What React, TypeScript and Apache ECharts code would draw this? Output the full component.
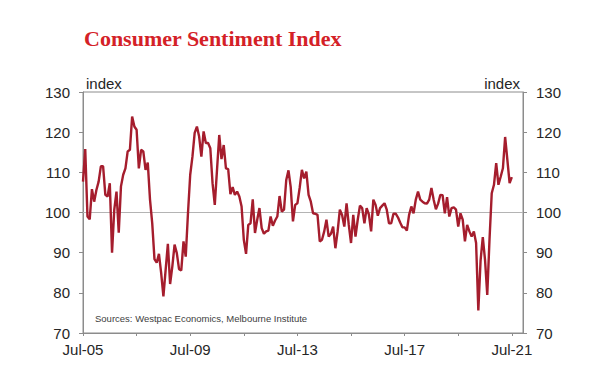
import React, { useEffect, useRef } from "react";
import * as echarts from "echarts";

// Westpac-Melbourne Institute Consumer Sentiment Index, monthly
const sentimentJul05toJun09 = [
  107.7, 115.8, 99, 98.3, 105.8, 102.7, 105.6, 107.7, 111.5, 111.5, 104.4, 104,
  107.3, 90, 100.7, 105.2, 95, 106.5, 109.4, 111, 115.2, 115.6, 123.9, 121.4,
  120.6, 111, 115.6, 115.2, 110.6, 112.4, 103.2, 97.3, 88.4, 87.5, 89.7, 84.9,
  79.1, 85.7, 92.2, 82.2, 86.6, 92, 89.9, 85.9, 85.6, 92.8, 89, 99.8,
];
const sentimentJul09toJun13 = [
  109.4, 113.9, 119.8, 121.4, 118.9, 113.9, 120.2, 117.3, 117.3, 116, 107.3, 101.9,
  110.6, 119.3, 113.3, 116.8, 111, 110.8, 104.6, 106.3, 104.4, 105.2, 104, 101.5,
  93.2, 89.7, 96.9, 97.3, 103.3, 94.9, 98.2, 101.1, 96.1, 94.7, 95.3, 95.5,
  99, 96.7, 98, 99, 104.1, 100.2, 100.7, 108.1, 110.5, 106.3, 97.8, 101.9,
];
const sentimentJul13toJun17 = [
  102.3, 106.1, 110.6, 108.5, 110.2, 104.4, 102.7, 99.8, 99.7, 99.4, 92.8, 93.2,
  95.3, 98.2, 94, 94.7, 96.5, 91.1, 95.3, 100.7, 99.4, 96.5, 102.3, 96.9,
  92.4, 99.4, 94, 98.2, 101.7, 101.1, 97.3, 101.1, 99.5, 95.3, 103.2, 101.9,
  99.2, 101.1, 101.7, 102.3, 100.7, 97.3, 97.3, 99.7, 99.7, 98.8, 97.5, 96.3,
];
const sentimentJul17toJul21 = [
  96.3, 95.5, 99.4, 101.5, 99.8, 103.2, 105.2, 103.2, 102.7, 102.3, 102.2, 103.2,
  106.1, 103.2, 100.8, 102.2, 104.4, 104.3, 99.8, 103.8, 99, 101.1, 101.3, 100.7,
  96.5, 99.8, 98.2, 92.8, 96.9, 95.3, 94, 95.3, 92.4, 75.6, 88, 93.9,
  88.2, 79.5, 93.2, 104.8, 106.9, 112.3, 106.9, 108.9, 111, 118.8, 113.1, 107.3,
  108.8,
];

const sentiment = [
  ...sentimentJul05toJun09,
  ...sentimentJul09toJun13,
  ...sentimentJul13toJun17,
  ...sentimentJul17toJul21,
];

const monthNames = ["Jan", "Feb", "Mar", "Apr", "May", "Jun", "Jul", "Aug", "Sep", "Oct", "Nov", "Dec"];
// axis runs Jul-05 .. Dec-21
const categories: string[] = [];
for (let i = 0; i < 198; i++) {
  const k = 6 + i;
  const yy = 5 + Math.floor(k / 12);
  categories.push(`${monthNames[k % 12]}-${String(yy).padStart(2, "0")}`);
}

const yTicks = { min: 70, max: 130, interval: 10 };

const title = "Consumer Sentiment Index";
const axisTitle = "index";
const sourceNote = "Sources: Westpac Economics, Melbourne Institute";

export default function App() {
  const ref = useRef<HTMLDivElement>(null);
  useEffect(() => {
    document.body.style.margin = "0";
    if (!ref.current) return;
    const chart = echarts.init(ref.current, null, { renderer: "svg" });
    const axisColor = "#8c8c8c";
    const labelStyle = {
      fontFamily: "Liberation Sans",
      fontSize: 15,
      color: "#262626",
    };
    const yCommon = {
      type: "value" as const,
      min: yTicks.min,
      max: yTicks.max,
      interval: yTicks.interval,
      splitLine: { show: false },
      axisLine: { show: true, lineStyle: { color: axisColor, width: 1 } },
      axisTick: { show: true, inside: false, length: 4, lineStyle: { color: axisColor } },
      axisLabel: { ...labelStyle, margin: 13 },
    };
    chart.setOption({
      animation: false,
      backgroundColor: "#ffffff",
      grid: {
        left: 83,
        right: 77,
        top: 92,
        bottom: 57,
        show: true,
        borderColor: axisColor,
        borderWidth: 1,
        backgroundColor: "transparent",
      },
      xAxis: {
        type: "category",
        data: categories,
        boundaryGap: false,
        axisLine: { show: true, lineStyle: { color: axisColor, width: 1 } },
        axisTick: { show: true, interval: 23, length: 3, inside: false, lineStyle: { color: axisColor } },
        axisLabel: { ...labelStyle, interval: 47, margin: 9 },
        splitLine: { show: false },
      },
      yAxis: [
        { ...yCommon, position: "left" },
        { ...yCommon, position: "right" },
      ],
      graphic: [
        {
          type: "text",
          style: {
            x: 84,
            y: 38,
            text: title,
            fontFamily: "Liberation Serif",
            fontWeight: "bold",
            fontSize: 22,
            fill: "#d42127",
            verticalAlign: "middle",
          },
        },
        {
          type: "text",
          style: {
            x: 86,
            y: 83,
            text: axisTitle,
            fontFamily: "Liberation Sans",
            fontSize: 15,
            fill: "#262626",
            verticalAlign: "middle",
          },
        },
        {
          type: "text",
          style: {
            x: 520,
            y: 83,
            text: axisTitle,
            fontFamily: "Liberation Sans",
            fontSize: 15,
            fill: "#262626",
            align: "right",
            verticalAlign: "middle",
          },
        },
        {
          type: "text",
          style: {
            x: 95,
            y: 318,
            text: sourceNote,
            fontFamily: "Liberation Sans",
            fontSize: 9.5,
            fill: "#404040",
            verticalAlign: "middle",
          },
        },
      ],
      series: [
        {
          type: "line",
          data: sentiment,
          yAxisIndex: 0,
          showSymbol: false,
          symbol: "none",
          lineStyle: { color: "#a51d2d", width: 2.4 },
          z: 3,
          markLine: {
            silent: true,
            symbol: "none",
            label: { show: false },
            lineStyle: { color: "#b4b4b4", width: 1, type: "solid" },
            data: [{ yAxis: 100 }],
            z: 1,
          },
        },
      ],
    });
    return () => chart.dispose();
  }, []);
  return <div ref={ref} style={{ width: 600, height: 390 }} />;
}
